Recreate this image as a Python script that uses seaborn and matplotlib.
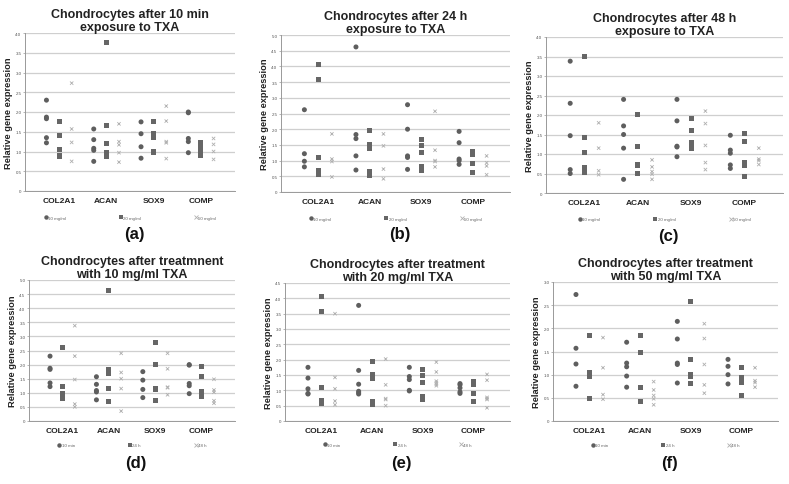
import matplotlib
matplotlib.use("Agg")
import matplotlib.pyplot as plt
from matplotlib.lines import Line2D
from matplotlib.ticker import FuncFormatter
import numpy as np
import pandas as pd
import seaborn as sns

sns.set_theme(style="white")
plt.rcParams['font.family'] = ['Liberation Sans', 'DejaVu Sans']

genes = ["COL2A1", "ACAN", "SOX9", "COMP"]
times = ["10 min", "24 h", "48 h"]
concs = ["10 mg/ml", "20 mg/ml", "50 mg/ml"]

# values per gene (COL2A1, ACAN, SOX9, COMP)
min10_10mg = [[2.30, 1.87, 1.83, 1.35, 1.22], [1.57, 1.30, 1.08, 1.03, 0.75],
              [1.75, 1.45, 1.12, 0.83], [2.00, 1.98, 1.33, 1.25, 0.97]]
min10_20mg = [[1.75, 1.40, 1.05, 0.90, 0.88], [3.77, 1.65, 1.20, 0.97, 0.92, 0.88],
              [1.75, 1.45, 1.35, 1.00, 0.98], [1.22, 1.18, 1.08, 0.95, 0.90]]
min10_50mg = [[2.73, 1.57, 1.23, 0.75], [1.70, 1.25, 1.17, 0.97, 0.73],
              [2.15, 1.77, 1.25, 1.22, 0.82], [1.33, 1.18, 1.00, 0.80]]

h24_10mg = [[2.62, 1.22, 0.98, 0.80], [4.62, 1.83, 1.70, 1.15, 0.70],
            [2.78, 2.00, 1.15, 1.10, 0.72], [1.93, 1.57, 1.05, 1.00, 0.88]]
h24_20mg = [[4.05, 3.58, 1.10, 0.67, 0.62, 0.57], [1.95, 1.52, 1.37, 0.65, 0.53],
            [1.67, 1.48, 1.25, 0.80, 0.70], [1.30, 1.25, 1.18, 0.90, 0.63]]
h24_50mg = [[1.85, 1.05, 0.97, 0.48], [1.85, 1.47, 0.73, 0.42],
            [2.57, 1.33, 1.00, 0.97, 0.80], [1.15, 0.93, 0.83, 0.55]]

h48_10mg = [[3.38, 2.30, 1.47, 0.60, 0.50], [2.40, 1.72, 1.50, 1.15, 0.35],
            [2.40, 1.85, 1.20, 1.18, 0.93], [1.48, 1.10, 1.02, 0.72, 0.63]]
h48_20mg = [[3.50, 1.42, 1.05, 0.65, 0.53], [2.02, 1.18, 0.73, 0.70, 0.50],
            [1.92, 1.60, 1.30, 1.25, 1.20, 1.15], [1.52, 1.33, 0.77, 0.73, 0.70, 0.43]]
h48_50mg = [[1.80, 1.15, 0.57, 0.47], [0.85, 0.67, 0.55, 0.48, 0.35],
            [2.10, 1.78, 1.22, 0.78, 0.60], [1.15, 0.87, 0.83, 0.73]]

ymax_top = [4.0, 5.0, 4.0]
ymax_bottom = [5.0, 4.5, 3.0]
letters = ["(a)", "(b)", "(c)", "(d)", "(e)", "(f)"]

table = {
    ("10 min", "10 mg/ml"): min10_10mg, ("10 min", "20 mg/ml"): min10_20mg,
    ("10 min", "50 mg/ml"): min10_50mg,
    ("24 h", "10 mg/ml"): h24_10mg, ("24 h", "20 mg/ml"): h24_20mg,
    ("24 h", "50 mg/ml"): h24_50mg,
    ("48 h", "10 mg/ml"): h48_10mg, ("48 h", "20 mg/ml"): h48_20mg,
    ("48 h", "50 mg/ml"): h48_50mg,
}
rows = []
for (t, c), per_gene in table.items():
    for g, vals in zip(genes, per_gene):
        for v in vals:
            rows.append({"time": t, "conc": c, "gene": g, "value": v})
df = pd.DataFrame(rows)

markers = ["o", "s", "x"]
colors = ["#5e5e5e", "#666666", "#b0b0b0"]
sizes = [3.6, 3.6, 2.4]

W, H = 789, 485
fig = plt.figure(figsize=(W / 100, H / 100), dpi=100)

# axes boxes in pixels: left, right, top, bottom
boxes = [(25, 235, 34, 192), (281, 510, 36, 193), (546, 783, 38, 194),
         (29, 235, 281, 422), (285, 510, 284, 422), (553, 778, 283, 422)]

panels = []
for i, t in enumerate(times):
    panels.append((df[df.time == t], "conc", concs,
                   f"Chondrocytes after {t}\nexposure to TXA", ymax_top[i]))
titles_b = ["Chondrocytes after treatmnent\nwith 10 mg/ml TXA",
            "Chondrocytes after treatment\nwith 20 mg/ml TXA",
            "Chondrocytes after treatment\nwith 50 mg/ml TXA"]
for i, c in enumerate(concs):
    panels.append((df[df.conc == c], "time", times, titles_b[i], ymax_bottom[i]))

for k, (sub, hue, levels, title, ymax) in enumerate(panels):
    l, r, t, b = boxes[k]
    ax = fig.add_axes([l / W, 1 - b / H, (r - l) / W, (b - t) / H])
    for j, lev in enumerate(levels):
        part = sub[sub[hue] == lev]
        sns.stripplot(data=part, x="gene", y="value", hue=hue, hue_order=levels,
                      order=genes, dodge=True, jitter=False, marker=markers[j],
                      palette=[colors[j]] * 3, size=sizes[j],
                      linewidth=0.6 if markers[j] == "x" else 0,
                      legend=False, ax=ax, zorder=3)
    ax.set_ylim(0, ymax)
    ax.set_xlim(-0.72, 3.72)
    ticks = np.arange(0, ymax + 0.01, 0.5)
    ax.set_yticks(ticks)
    ax.yaxis.set_major_formatter(FuncFormatter(lambda v, p: "0" if v == 0 else f"{v:.1f}"))
    ax.tick_params(axis="y", labelsize=3.2, labelcolor="#555555", length=1.5,
                   width=0.5, color="#999999", pad=1, left=True)
    ax.tick_params(axis="x", labelsize=6, length=0, pad=4)
    for lab in ax.get_xticklabels():
        lab.set_fontweight("bold")
        lab.set_color("#222222")
    ax.set_axisbelow(True)
    ax.yaxis.grid(True, color="#cfcfcf", linewidth=0.9, linestyle="-")
    ax.xaxis.grid(False)
    for s in ["top", "right"]:
        ax.spines[s].set_visible(False)
    for s in ["left", "bottom"]:
        ax.spines[s].set_color("#999999")
        ax.spines[s].set_linewidth(0.7)
    ax.set_xlabel("")
    ax.set_ylabel("Relative gene expression", fontsize=6.7, fontweight="bold",
                  color="#222222", labelpad=2)
    ax.set_title(title, fontsize=9, fontweight="bold", color="#222222",
                 pad=2, linespacing=1.1)

    handles = [Line2D([], [], linestyle="none", marker=markers[j], color=colors[j],
                      markersize=3.2 if markers[j] != "x" else 2.4,
                      markeredgewidth=0.6 if markers[j] == "x" else 0, label=lev)
               for j, lev in enumerate(levels)]
    leg = ax.legend(handles=handles, ncol=3, loc="upper center",
                    bbox_to_anchor=(0.5, -0.13), frameon=False, fontsize=3.2,
                    columnspacing=12, handletextpad=0.1, handlelength=0.8)
    for txt in leg.get_texts():
        txt.set_color("#666666")

    fig.text((l + r) / 2 / W + 0.005, 1 - (b + 42) / H, letters[k], fontsize=12,
             fontweight="bold", ha="center", va="center", color="#111111")

fig.savefig("out.png", dpi=100)
